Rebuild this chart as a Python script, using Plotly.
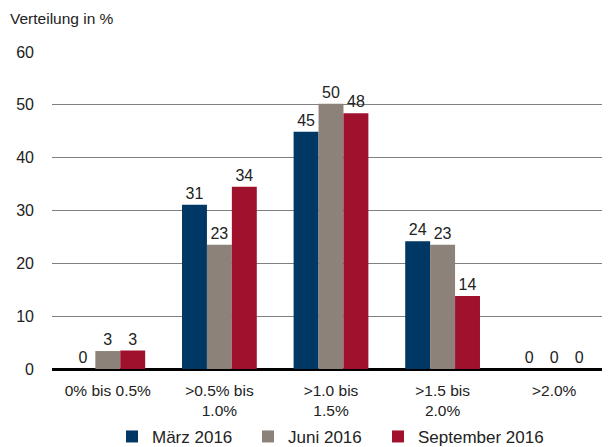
import plotly.graph_objects as go

categories = ["0% bis 0.5%", ">0.5% bis<br>1.0%", ">1.0 bis<br>1.5%", ">1.5 bis<br>2.0%", ">2.0%"]
maerz = [0, 31.1, 44.9, 24.2, 0]
juni = [3.4, 23.5, 50.2, 23.5, 0]
september = [3.5, 34.5, 48.4, 13.8, 0]
maerz_lbl = ["0", "31", "45", "24", "0"]
juni_lbl = ["3", "23", "50", "23", "0"]
sept_lbl = ["3", "34", "48", "14", "0"]
y_ticks = [0, 10, 20, 30, 40, 50, 60]

font = "Liberation Sans, Arial, sans-serif"
fig = go.Figure()
series = [
    ("März 2016", maerz, maerz_lbl, "#003865", "legend", 0.1075),
    ("Juni 2016", juni, juni_lbl, "#8C8279", "legend2", 0.3513),
    ("September 2016", september, sept_lbl, "#A0112E", "legend3", 0.5842),
]
legends = {}
for name, vals, lbl, col, leg, lx in series:
    fig.add_trace(go.Bar(x=categories, y=vals, name=name, marker_color=col,
                         text=lbl, textposition="outside", cliponaxis=False,
                         textfont=dict(size=16, color="#222"), marker_line_width=0,
                         legend=leg))
    legends[leg] = dict(orientation="h", x=lx, xanchor="left", yref="container", y=0.023,
                        yanchor="middle", font=dict(size=17), bgcolor="rgba(0,0,0,0)")

# page body has an 8px margin, so the figure is sized to fill the rest of the window
fig.update_layout(
    width=602, height=439, barmode="group", bargap=0.33, bargroupgap=0,
    plot_bgcolor="white", paper_bgcolor="white",
    margin=dict(l=44, r=0, t=44, b=78, autoexpand=False),
    font=dict(family=font, size=16, color="#222"),
    showlegend=True,
    **legends,
)
fig.add_annotation(text="Verteilung in %", xref="paper", yref="paper", x=-0.079, y=1.107,
                   xanchor="left", yanchor="middle", showarrow=False, font=dict(size=15.5))
fig.update_yaxes(range=[0, 60], tickvals=y_ticks, showgrid=True, gridcolor="#808080",
                 gridwidth=1, zeroline=True, zerolinecolor="#000", zerolinewidth=2.5,
                 ticks="", ticklabelstandoff=17, tickfont=dict(size=16))
fig.update_xaxes(showline=False, ticks="", ticklabelstandoff=10, tickfont=dict(size=15.5))
fig.write_html("out.html")
